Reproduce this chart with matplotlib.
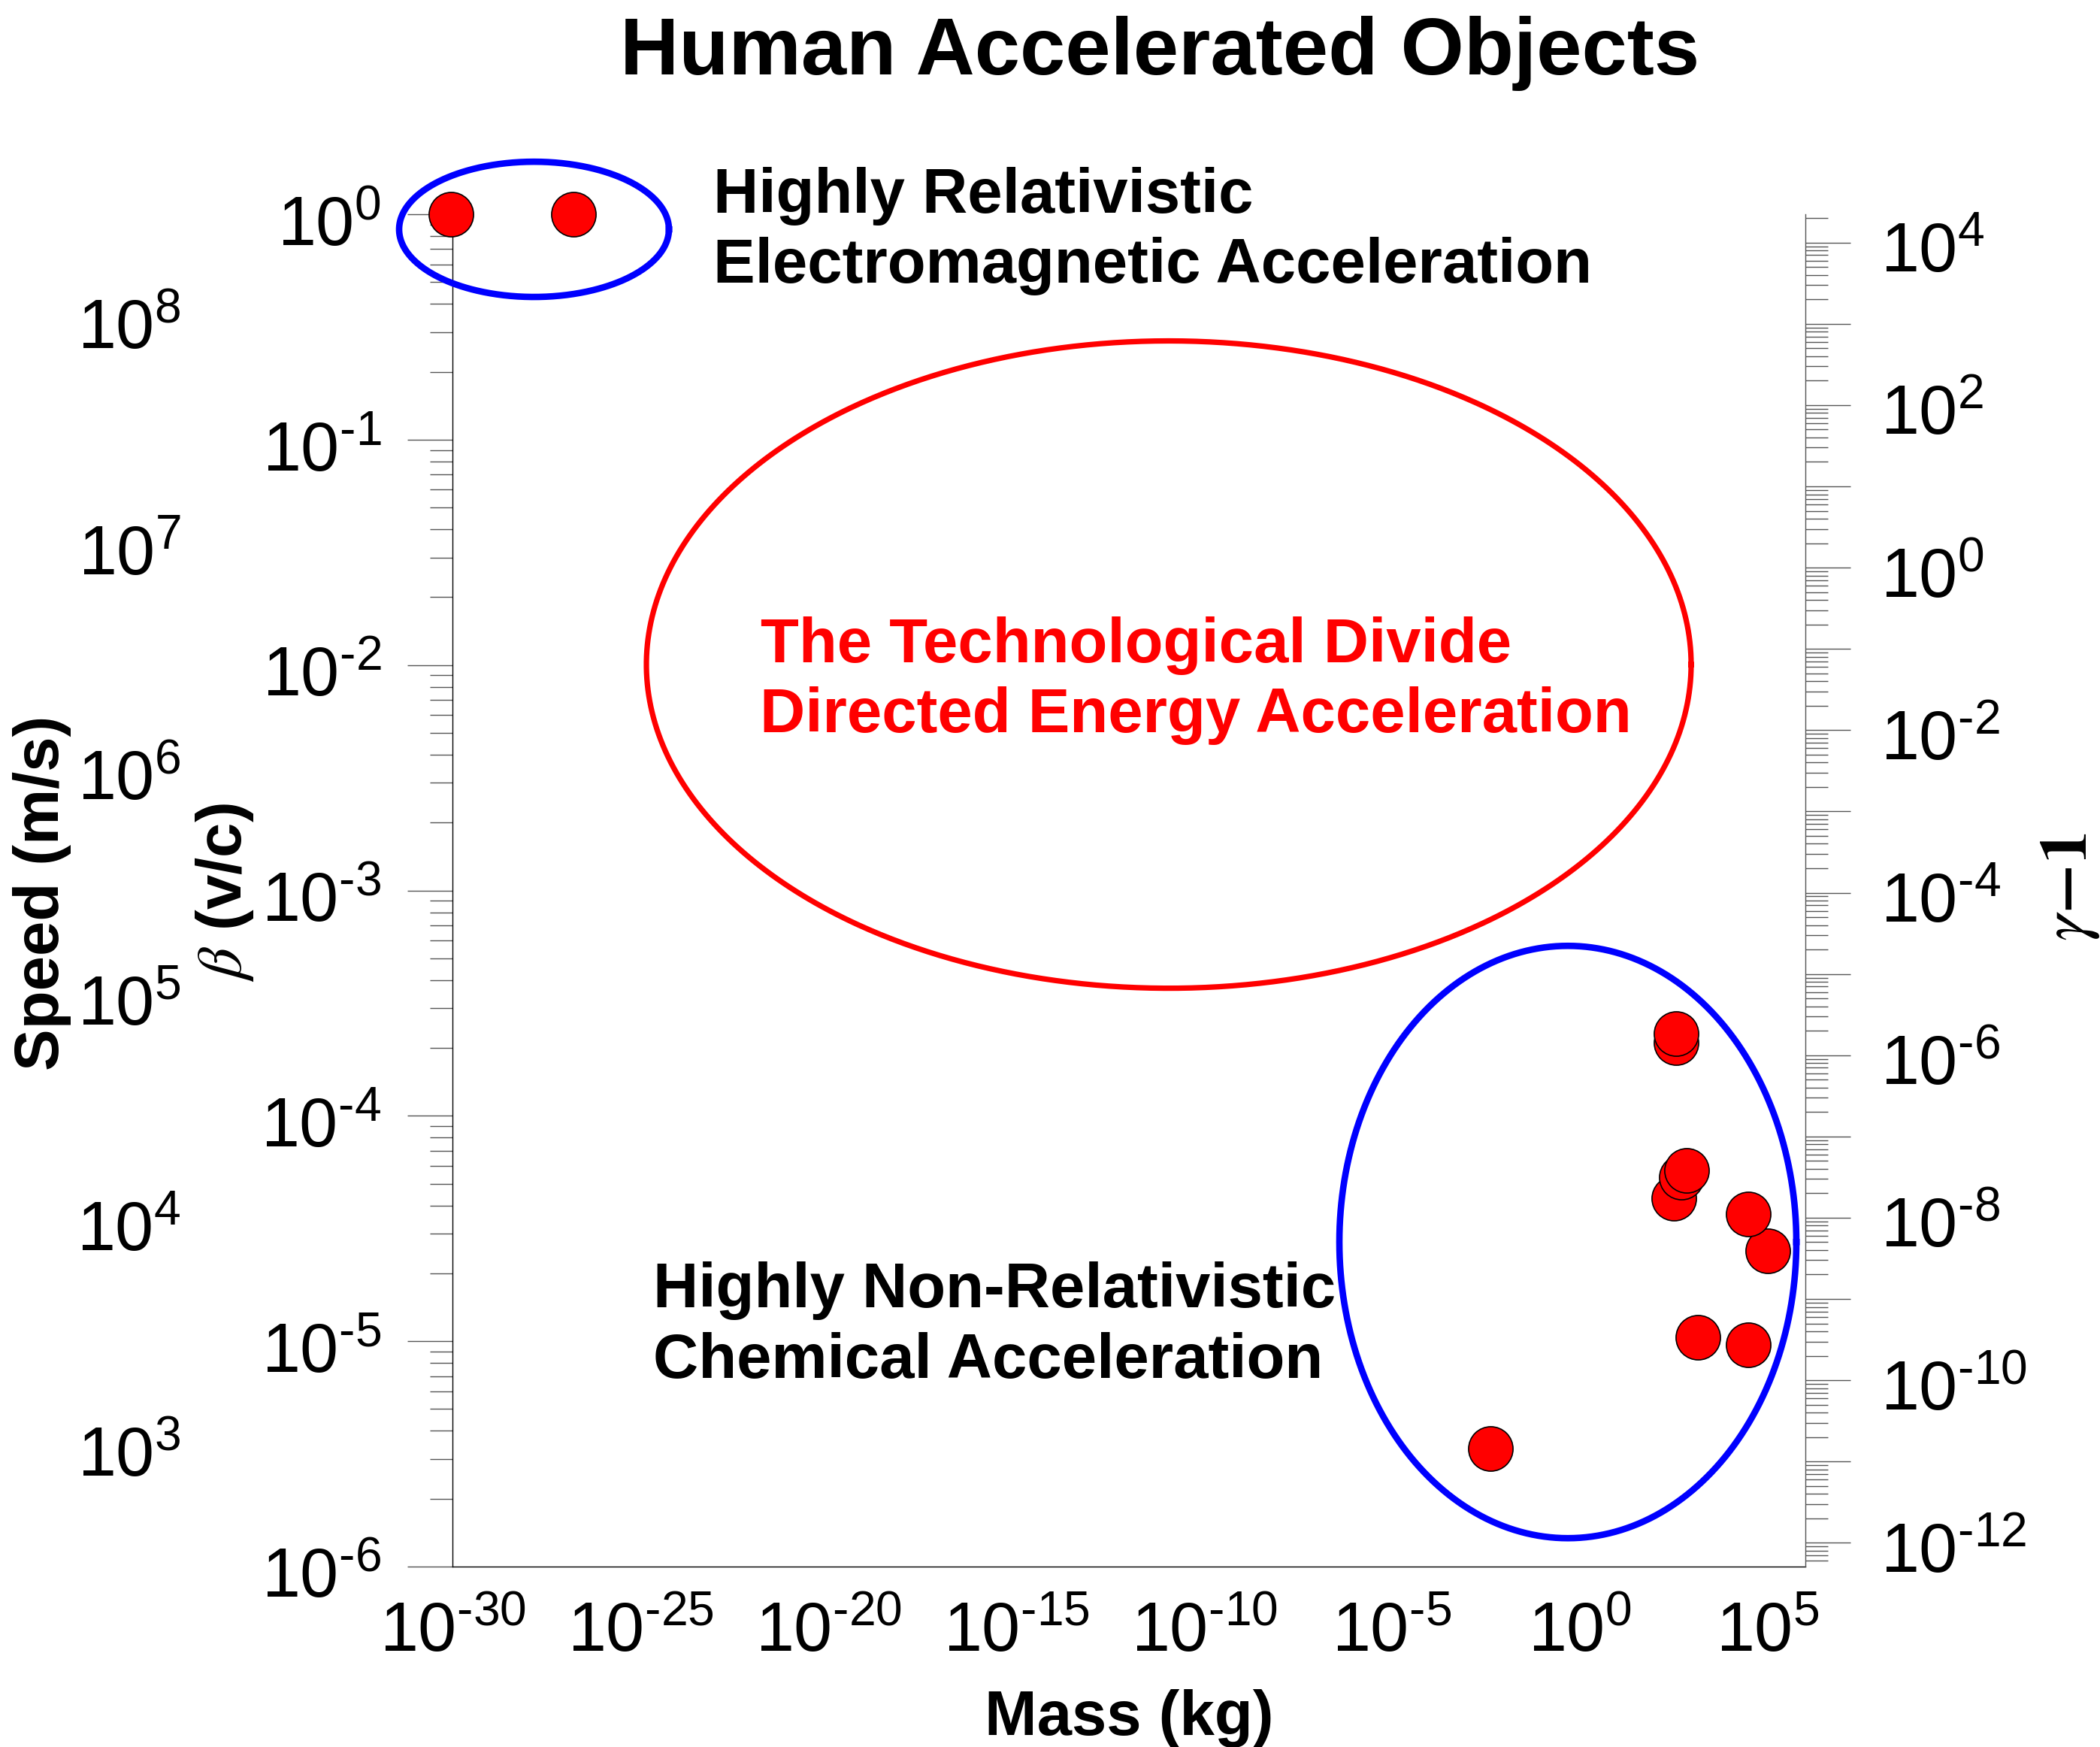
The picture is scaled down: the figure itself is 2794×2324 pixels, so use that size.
import numpy as np
import matplotlib
matplotlib.use('Agg')
import matplotlib.pyplot as plt
from matplotlib.ticker import LogLocator, FuncFormatter, NullLocator, FixedLocator
from matplotlib.transforms import ScaledTranslation

plt.rcParams['font.family'] = ['Liberation Sans', 'DejaVu Sans']
plt.rcParams['mathtext.fontset'] = 'custom'
plt.rcParams['mathtext.rm'] = 'Liberation Sans'
plt.rcParams['mathtext.it'] = 'Liberation Sans:italic'
plt.rcParams['mathtext.bf'] = 'Liberation Sans:bold'
plt.rcParams['mathtext.default'] = 'regular'

# ---------------- data ----------------
mass_kg = [9.11e-31, 1.67e-27, 4.1e-3, 2.98e4, 1.40e3, 1.01e5, 2.98e4,
           312, 494, 701, 363, 363]
beta = [1.0, 1.0, 3.33e-6, 9.6e-6, 1.04e-5, 2.52e-5, 3.68e-5,
        4.31e-5, 5.36e-5, 5.73e-5, 2.11e-4, 2.32e-4]

x_ticks = [1e-30, 1e-25, 1e-20, 1e-15, 1e-10, 1e-5, 1e0, 1e5]
speed_ticks = [1e3, 1e4, 1e5, 1e6, 1e7, 1e8]
C_LIGHT = 2.998e8

# region ellipses: (centre log10 mass, centre log10 beta, width decades, height decades)
regions = {
    'relativistic': (-27.83, -0.067, 7.18, 0.600, '#0000FF'),
    'divide': (-10.94, -1.998, 27.8, 2.872, '#FF0000'),
    'chemical': (-0.32, -4.56, 12.16, 2.628, '#0000FF'),
}

W, H = 2794, 2324
DPI = 200
fig = plt.figure(figsize=(W / DPI, H / DPI), dpi=DPI)
ax = fig.add_axes([602 / W, 1 - 2084 / H, 1800 / W, 1799 / H])


def pow10_label(v, pos=None):
    if v <= 0:
        return ''
    e = int(round(np.log10(v)))
    s = str(e).replace('-', '\u2010')
    return '$10^{' + s + '}$'


def pow10_even(v, pos=None):
    e = int(round(np.log10(v)))
    if e % 2 != 0:
        return ''
    return pow10_label(v)


ax.set_xscale('log')
ax.set_yscale('log')
ax.set_xlim(1e-30, 1e6)
ax.set_ylim(1e-6, 1)

ax.xaxis.set_major_locator(FixedLocator(x_ticks))
ax.xaxis.set_minor_locator(NullLocator())
ax.xaxis.set_major_formatter(FuncFormatter(pow10_label))
ax.tick_params(axis='x', which='both', length=0, pad=16.5, labelsize=33)

ax.yaxis.set_major_locator(LogLocator(base=10, numticks=50))
ax.yaxis.set_minor_locator(LogLocator(base=10, subs=np.arange(2, 10), numticks=200))
ax.yaxis.set_major_formatter(FuncFormatter(pow10_label))
ax.tick_params(axis='y', which='major', length=21.6, width=0.5, color='#555555',
               pad=12.5, labelsize=33)
ax.tick_params(axis='y', which='minor', length=10.8, width=0.5, color='#555555')

for s in ['top', 'right']:
    ax.spines[s].set_visible(False)
for s in ['left', 'bottom']:
    ax.spines[s].set_linewidth(0.5)
    ax.spines[s].set_color('black')

# right axis gamma-1
axr = ax.twinx()
axr.set_yscale('log')
axr.set_ylim(10 ** -12.293, 10 ** 4.349)
axr.yaxis.set_major_locator(LogLocator(base=10, numticks=50))
axr.yaxis.set_minor_locator(LogLocator(base=10, subs=np.arange(2, 10), numticks=400))
axr.yaxis.set_major_formatter(FuncFormatter(pow10_even))
axr.yaxis.set_minor_formatter(FuncFormatter(lambda v, p: ''))
axr.tick_params(axis='y', which='major', length=21.6, width=0.5, color='#555555',
                pad=14.5, labelsize=33)
axr.tick_params(axis='y', which='minor', length=10.8, width=0.5, color='#555555')
for s in ['top', 'left', 'bottom']:
    axr.spines[s].set_visible(False)
axr.spines['right'].set_linewidth(0.5)
axr.spines['right'].set_color('#555555')

# speed axis
sec = ax.secondary_yaxis(-0.2006, functions=(lambda b: np.asarray(b) * C_LIGHT,
                                            lambda v: np.asarray(v) / C_LIGHT))
sec.set_yscale('log')
sec.yaxis.set_major_locator(FixedLocator(speed_ticks))
sec.yaxis.set_minor_locator(NullLocator())
sec.yaxis.set_major_formatter(FuncFormatter(pow10_label))
sec.tick_params(axis='y', which='both', length=0, pad=0, labelsize=33)
sec.spines['left'].set_visible(False)

# region ellipses
t = np.linspace(0, 2 * np.pi, 721)
for key, (cx, cy, w, h, col) in regions.items():
    ex = 10 ** (cx + 0.5 * w * np.cos(t))
    ey = 10 ** (cy + 0.5 * h * np.sin(t))
    lw = 2.6 if key == 'divide' else 3.1
    ax.plot(ex, ey, color=col, lw=lw, clip_on=False, zorder=3)

# data points
ax.plot(mass_kg, beta, 'o', ls='none', ms=21.3, mfc='#FF0000', mec='black',
        mew=0.6, clip_on=False, zorder=5)

# small downward shift of y tick labels to match reference placement
def shift_labels(axis, dy_px):
    off = ScaledTranslation(0, -dy_px / DPI, fig.dpi_scale_trans)
    for tk in axis.get_major_ticks():
        for lab in (tk.label1, tk.label2):
            lab.set_transform(lab.get_transform() + off)

shift_labels(ax.yaxis, 8)
shift_labels(axr.yaxis, 6)
shift_labels(sec.yaxis, 3)

# texts
def ftext(x, y, s, **kw):
    return fig.text(x / W, 1 - y / H, s, **kw)

ftext(1543, 99, 'Human Accelerated Objects', ha='center', va='baseline',
      fontsize=39, fontweight='bold')
ftext(949, 283, 'Highly Relativistic', ha='left', va='baseline', fontsize=30,
      fontweight='bold')
ftext(949, 376, 'Electromagnetic Acceleration', ha='left', va='baseline', fontsize=30,
      fontweight='bold')
ftext(1012, 881, 'The Technological Divide', ha='left', va='baseline', fontsize=30,
      fontweight='bold', color='#FF0000')
ftext(1011, 974, 'Directed Energy Acceleration', ha='left', va='baseline', fontsize=30,
      fontweight='bold', color='#FF0000')
ftext(869, 1739, 'Highly Non-Relativistic', ha='left', va='baseline', fontsize=30,
      fontweight='bold')
ftext(869, 1833, 'Chemical Acceleration', ha='left', va='baseline', fontsize=30,
      fontweight='bold')

ftext(1502, 2308, 'Mass (kg)', ha='center', va='baseline', fontsize=30,
      fontweight='bold')
ftext(56, 1188, 'Speed (m/s)', ha='center', va='center', rotation=90, fontsize=30,
      fontweight='bold')
ftext(299, 1187, r'$\mathit{\beta}$ (v/c)', ha='center', va='center', rotation=90,
      fontsize=30, fontweight='bold', math_fontfamily='stix')
ftext(2754, 1180, r'$\mathit{\gamma}\mathbf{-1}$', ha='center', va='center',
      rotation=90, fontsize=32, math_fontfamily='stix')

fig.savefig('out.png', dpi=DPI)
